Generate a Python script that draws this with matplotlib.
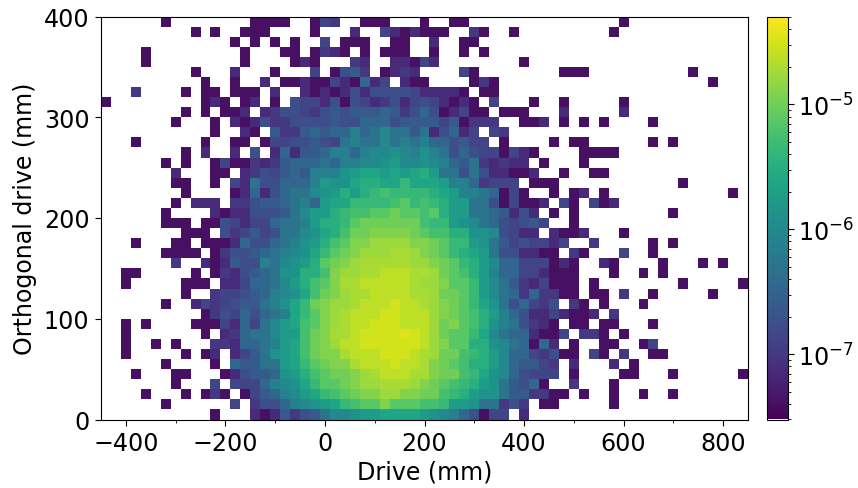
import numpy as np
import matplotlib
matplotlib.use("Agg")
import matplotlib.pyplot as plt
from matplotlib.colors import LogNorm

# Histogram bins (mm)
x_edges = np.arange(-450, 851, 20)
y_edges = np.arange(0, 401, 10)

vmin = 3.0e-8
vmax = 5.06e-5

# Position on the colour scale of each level letter a..z.
level_letters = "abcdefghijklmnopqrstuvwxyz"
level_positions = [0.00, 0.04, 0.08, 0.12, 0.16, 0.20, 0.24, 0.28, 0.33, 0.38,
                   0.43, 0.47, 0.51, 0.55, 0.59, 0.63, 0.67, 0.70, 0.74, 0.78,
                   0.81, 0.85, 0.87, 0.90, 0.93, 0.95]

# Cell levels, top row (y = 390-400) first. '.' is an empty bin.
level_rows = [
    "..... .b... ..... bbbb. .bfe. .bbb. ..b.. bb... ..... ..... ..b.. ..... .....",
    "..... ....b .b..b bb... .b... d..fd bdbbb ..eb. .b... ..... .b... ..... .....",
    "..... ..... ...b. b.b.b ..f.b bb..b b..d. .bb.. ..... ..... ..... ..... .....",
    "....b ..... ....b ...bb .bedb .b.bb b..b. .b.b. ..... ..... ..... ..... .....",
    "....b ..... ....b ....b db... ed..d dbfd. ..... ..b.. ..... ..... ..... .....",
    "..... ....b ...d. ..b.. .f.bg he.bd ed... .fb.. ..... .bbb. ..... ....b .....",
    "..... ..... b..b. .d.bb dbbfd bidf. dbb.. ..beb ..... ..... ..... ..... .b...",
    "...e. ...b. bb.bb b.d.. dbdbd gdggg gfddd db.bb ..... ..... ..... ..... .....",
    "b.... ..... bdb.b d.b.g ffdgb gfdeg dfgfd bdb.f ...b. .b... ..b.. ..... .....",
    "..... ...b. b.bbd .degg feghg hhhih egigb dfbb. bbb.. .d... ..d.. ..... .....",
    "..... ..b.. .b.db dgeeg ggghg giiig hhhhf hbeee ..bbd .b.b. b.... b.... .....",
    "..... ..... .b..d b.hee hihii kijlj jhjdg idf.f e.... ..... ..... ..... .....",
    "...b. ..... b..bb .bffg ghgfj kjjlj kjkii ghff. b.... b.bb. ..... b.b.. .....",
    "..... ...b. d..d. g.did hhikk ikllm lkmkj gigff bfdb. ...bb bb... ..... .....",
    "..... .b.b. .bfbb edehi iijik kllmn llmlk ihjed edd.b ...b. ..... ..... .....",
    "..... ..d.. .bb.d egfhi hkkkm noono nopnj jgjgd dbbd. .b..b b.... ..... .....",
    "..... ..bb. .b.fd jggii iknmm oppoo qooon kkief ff.bb b.... ..... ...b. .....",
    "..... ...b. ...bd idgij jlmnp npqrq qqqpo nkkji bfb.. b.bd. b.... ..... ...b.",
    "..... ..b.d dd.ee ghhij kinoo qqqqr sqrqp nnjjg bfbbd .fb.f bd... ..... .....",
    "..... .b... .dbdd ggghj lnnpq rrsst ssrsp nnjji hdgd. b.b.. ..... ..b.. .....",
    "..... .bbb. bbgfd ffijj knppq stttt ttrqq nmlji gfghf ..b.. ..... ..... .....",
    "..... ...bb b.gef hfgjj lmopr ttuuu utsrr ppmml gfdd. dbbd. ..b.. ..... .....",
    "...b. ..bb. bbbdi ggijk mnprs uuvvv vuuts qqnmj hfgff df..e ..... b.b.. .....",
    "..... .bbbb .begg hijkl moqst uvvvw wvuts qponj ggddb b.eb. ..f.. b.... .....",
    "..... ..e.. dbdhg gkjlm npstu vwwww wvvut sqpnl iifff bdb.. db... .b... b.b..",
    "..bb. ....b .bedg hijmm ppruv vwwxx xwwvt srpnk iiffd bbb.. .b..b .b... .....",
    "..b.. ...bb b.ddf iijln prsuw wxxxx xwvvu ssqnl jhedf bbb.b ..... ...b. ....b",
    "..... ...b. .effg hiklm ortuv wwxxx xwwvt tsqnl jieie ebb.b b.e.. b.... .b...",
    "..... .b..d fefgh hjkmo qtuvv wxxxy xxwvu tsqom jgife g.eb. b...b ..... .....",
    "..... ..... begfi gijko qsuvw xxxyy xxxvu tsrpn kigdd fdbbd .e... ..... .....",
    "..b.b ....b bbfdi fjlno rsuvw xxyyy xxxvt usrpm kjged b.bb. bb... b.... .....",
    "..b.. ..... b.dei jjlnn rtuww xyyyy zyxvt ssqol jiidb bf.ee b.b.. ..... .....",
    "..b.. b.b.. .eedi ijkno rtuvx xyyyy yyxvu ssppm ljibi d.b.. bb..b f.... .....",
    "..b.. ...b. bd.df hjmno rtuuw xxxyy yxwvt trqpn liife gbb.f b.e.. bb... .....",
    "..... .b... .b.ih hjjno qstuu wxxxy xxwut srppn lihhf e.d.. .d.b. ..... .....",
    "...b. ..bb. ..bdg hhimn prstt uvwxx xwwut trqom ligff f.b.. ..bb. ..b.. ....b",
    "..... ..b.. .f.ff fiklm oqsst uvvww wvuts rqpnm jhgib ..e.. .b... ..... .....",
    "....b ...b. beb.b fhikl noqrs tuuvv uuttr qpnmm jhhee bb.b. .b..b ..b.. .....",
    "..... .b... ...f. eggik lmnoq rssus ssrrq nnmjj ege.b b.... .b... ..... .....",
    "..... ..... .b... dbdhe ghjll mnnoo oonml kigbf f.d.. ..... ..... ..... .....",
]


def decode(row):
    chars = row.replace(" ", "")
    span = np.log10(vmax) - np.log10(vmin)
    return [np.nan if c == "." else
            10 ** (np.log10(vmin) + span * level_positions[level_letters.index(c)])
            for c in chars]


density = np.array([decode(r) for r in level_rows])[::-1]

FS = 17.1
W, H = 858, 489
fig = plt.figure(figsize=(W / 100, H / 100), dpi=100)
ax = fig.add_axes([101 / W, 1 - 420.5 / H, 647 / W, 403 / H])
cmap = plt.get_cmap("viridis").copy()
cmap.set_bad("white")
mesh = ax.pcolormesh(x_edges, y_edges, np.ma.masked_invalid(density),
                     cmap=cmap, norm=LogNorm(vmin=vmin, vmax=vmax))
ax.set_xlim(-450, 850)
ax.set_ylim(0, 400)
ax.set_xticks(np.arange(-400, 801, 200))
ax.set_xticks(np.arange(-400, 851, 100), minor=True)
ax.set_yticks(np.arange(0, 401, 100))
ax.tick_params(axis="both", which="major", labelsize=FS, length=4.3, width=0.8, pad=4)
ax.tick_params(axis="x", which="minor", length=2.5, width=0.6)
ax.set_xlabel("Drive (mm)", fontsize=FS, labelpad=3)
ax.set_ylabel("Orthogonal drive (mm)", fontsize=FS, labelpad=5)

cax = fig.add_axes([767 / W, 1 - 420.5 / H, 20.5 / W, 403 / H])
cb = fig.colorbar(mesh, cax=cax)
cb.ax.tick_params(which="major", labelsize=FS, length=4.3, width=0.8)
cb.ax.tick_params(which="minor", length=2.5, width=0.6)

fig.savefig("out.png", dpi=100)
